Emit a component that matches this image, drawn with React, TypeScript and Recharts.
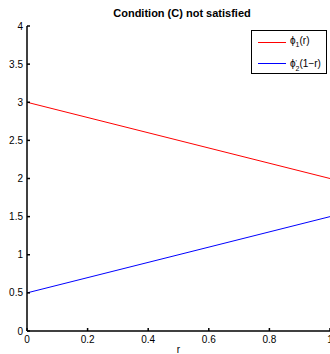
import React from 'react';
import { LineChart, Line, XAxis, YAxis, Legend } from 'recharts';

const rValues = [0, 1];
const phi1Values = [3, 2];
const phi2Values = [0.5, 1.5];
const xTicks = [0, 0.2, 0.4, 0.6, 0.8, 1];
const yTicks = [0, 0.5, 1, 1.5, 2, 2.5, 3, 3.5, 4];
const titleText = 'Condition (C) not satisfied';
const xLabel = 'r';
const RED = '#ff0000';
const BLUE = '#0000ff';

const data = rValues.map((r, i) => ({ r, phi1: phi1Values[i], phi2: phi2Values[i] }));

const FONT = '"Liberation Sans", Arial, Helvetica, sans-serif';
const tickStyle = { fontSize: 10, fill: '#000', fontFamily: FONT };
const noTick = () => <g />;

const LegendBox = () => {
  const row = (color: string, label: React.ReactNode) => (
    <div style={{ display: 'flex', alignItems: 'center', height: 21 }}>
      <div style={{ width: 28, height: 0, borderTop: `1.5px solid ${color}`, marginLeft: 6, marginRight: 4 }} />
      <div style={{ fontSize: 10, fontFamily: FONT, color: '#000', whiteSpace: 'nowrap', lineHeight: '10px' }}>{label}</div>
    </div>
  );
  return (
    <div style={{ border: '1.5px solid #000', background: '#fff', width: 76, height: 44, boxSizing: 'border-box', paddingTop: 1 }}>
      {row(RED, <span>ϕ<sub style={{ fontSize: 7 }}>1</sub>(r)</span>)}
      {row(
        BLUE,
        <span style={{ display: 'inline-flex', alignItems: 'flex-end' }}>
          ϕ
          <span style={{ display: 'inline-flex', flexDirection: 'column', fontSize: 7, lineHeight: '6px', marginBottom: -3 }}>
            <span>'</span>
            <span>2</span>
          </span>
          (1−r)
        </span>
      )}
    </div>
  );
};

export default function App() {
  return (
    <div style={{ position: 'absolute', left: 0, top: 0, width: 330, height: 354, background: '#fff', overflow: 'hidden' }}>
      <div
        style={{
          position: 'absolute',
          left: 82,
          width: 200,
          top: 7,
          textAlign: 'center',
          fontFamily: FONT,
          fontWeight: 'bold',
          fontSize: 11,
          lineHeight: '13px',
          color: '#000',
        }}
      >
        {titleText}
      </div>
      <LineChart width={330} height={354} data={data} margin={{ top: 26, right: 0, bottom: 0, left: 0 }}>
        <XAxis
          dataKey="r"
          type="number"
          domain={[0, 1]}
          ticks={xTicks}
          height={23}
          tickSize={-3}
          tickMargin={8}
          tick={tickStyle}
          stroke="#000"
          strokeWidth={1.5}
          interval={0}
          allowDataOverflow
          label={{ value: xLabel, position: 'insideBottom', offset: 1, fontSize: 10, fill: '#000', fontFamily: FONT }}
        />
        <XAxis
          xAxisId="top"
          orientation="top"
          dataKey="r"
          type="number"
          domain={[0, 1]}
          ticks={xTicks}
          height={0}
          tickSize={-3}
          tick={noTick}
          stroke="#000"
          strokeWidth={1.5}
          interval={0}
        />
        <YAxis
          type="number"
          domain={[0, 4]}
          ticks={yTicks}
          width={27}
          tickSize={-3}
          tickMargin={7}
          tick={tickStyle}
          stroke="#000"
          strokeWidth={1.5}
          interval={0}
        />
        <YAxis
          yAxisId="right"
          orientation="right"
          type="number"
          domain={[0, 4]}
          ticks={yTicks}
          width={0}
          tickSize={-3}
          tick={noTick}
          stroke="#000"
          strokeWidth={1.5}
          interval={0}
        />
        <Legend
          layout="vertical"
          align="center"
          verticalAlign="middle"
          content={<LegendBox />}
          wrapperStyle={{ left: 251, top: 30, width: 76, height: 44 }}
        />
        <Line type="linear" dataKey="phi1" stroke={RED} strokeWidth={1} dot={false} isAnimationActive={false} />
        <Line type="linear" dataKey="phi2" stroke={BLUE} strokeWidth={1} dot={false} isAnimationActive={false} />
      </LineChart>
    </div>
  );
}
